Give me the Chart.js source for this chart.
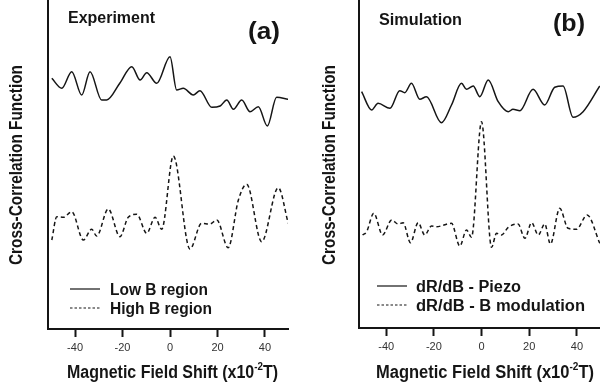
<!DOCTYPE html>
<html>
<head>
<meta charset="utf-8">
<script src="https://cdn.jsdelivr.net/npm/chart.js@4.4.1/dist/chart.umd.min.js"></script>
<style>
  body { margin: 0; background: #fff; }
  .panel { position: absolute; top: 0; width: 300px; height: 387px; }
</style>
</head>
<body>
<div class="panel" style="left:0"><canvas id="expChart" width="300" height="387"></canvas></div>
<div class="panel" style="left:300px"><canvas id="simChart" width="300" height="387"></canvas></div>
<script>
// Tick labels on the field-shift axis
const xTicks = [-40, -20, 0, 20, 40];

// (a) Experiment - low B region (solid)
const expLowX = [-49.8, -45.6, -41.4, -37.2, -33.7, -28.8, -26.7, -21.1, -16.1, -12.6, -9.8, -5.6, 0, 2.8, 5.6, 9.8, 12.6, 17.6, 21.1, 23.9, 26.7, 30.2, 33.7, 37.2, 41, 44.9, 49.8];
const expLowY = [250.7, 240.7, 257.3, 234, 257.3, 229, 229, 246, 262.3, 249, 256.3, 245.7, 272.3, 239, 240.7, 234, 238.3, 221.7, 223, 229, 219.7, 229, 217.3, 222.3, 203, 231.7, 229.7];

// (a) Experiment - high B region (dashed)
const expHighX = [-49.8, -47.7, -44.9, -41.4, -36.5, -33, -30.9, -26, -21.1, -17.6, -14, -9.8, -6.3, -3.5, 1.4, 8.4, 13.3, 16.8, 19.7, 24.5, 28.8, 32.3, 38.6, 45.6, 49.8];
const expHighY = [89, 112.3, 111.7, 117.3, 89, 99.7, 93, 120, 92.3, 111.7, 114.7, 95.7, 111.7, 99.7, 173, 80, 105.7, 105, 109, 81.3, 129, 144.7, 87.3, 141.3, 105.7];

// (b) Simulation - dR/dB piezo (solid)
const simPiezoX = [-50.3, -46.1, -43.4, -38.4, -34.3, -32.2, -29.4, -25.9, -23.1, -16.8, -12.6, -8.4, -6.3, -3.5, -0.7, 2.8, 7, 11.2, 13.2, 16.1, 21.6, 26.5, 30.7, 34.2, 38.4, 42.6, 49.6];
const simPiezoY = [236.3, 218, 224.7, 219.7, 237.3, 235.3, 244.7, 228.7, 231.3, 205.3, 223, 244.7, 238.7, 242, 231.3, 248, 226.3, 216.3, 218.7, 217.3, 238.7, 223, 240.7, 242, 210.7, 216.3, 242];

// (b) Simulation - dR/dB B modulation (dashed)
const simModX = [-49.9, -48.2, -45.2, -41.5, -37.7, -35, -32.9, -29.8, -26.6, -23.8, -21, -18.9, -12.6, -9.1, -6.3, -4.2, 0, 4.2, 6.3, 8.4, 11.2, 15.3, 18.2, 21, 23.8, 26.5, 28.9, 32.8, 36.3, 39.8, 44.3, 49.6];
const simModY = [93, 96.3, 114.7, 93, 108, 104, 105.3, 85.3, 105.3, 93, 102, 101.3, 104.7, 82, 98, 90.7, 206.3, 80.7, 94.7, 93, 100.7, 104, 89.7, 105.3, 93, 104, 84, 119.7, 99.7, 98.7, 113, 84.7];

const toPoints = (xs, ys) => xs.map((x, i) => ({ x, y: ys[i] }));

const INK = '#151515';
const BOLD = 'bold 18px "Liberation Sans", Arial, sans-serif';

// draw text squeezed/stretched horizontally to a given width
const fitText = (ctx, txt, x, y, font, width) => {
    ctx.save();
    ctx.font = font;
    const natural = ctx.measureText(txt).width;
    ctx.translate(x, y);
    ctx.scale(width / natural, 1);
    ctx.fillText(txt, 0, 0);
    ctx.restore();
};

// titles, panel tags and legend
const annotPlugin = {
    id: 'annot',
    afterDraw(chart, args, opts) {
        const ctx = chart.ctx;
        ctx.save();
        ctx.fillStyle = INK;
        ctx.textAlign = 'left';
        ctx.textBaseline = 'alphabetic';

        // y axis title (rotated)
        ctx.save();
        ctx.translate(opts.yTitleX, 165);
        ctx.rotate(-Math.PI / 2);
        fitText(ctx, 'Cross-Correlation Function', -100, 6, BOLD, 200);
        ctx.restore();

        // x axis title with superscript
        const main = 'Magnetic Field Shift (x10';
        const sup = '-2';
        const tail = 'T)';
        ctx.font = BOLD;
        const w1 = ctx.measureText(main).width;
        const w3 = ctx.measureText(tail).width;
        ctx.font = 'bold 11px "Liberation Sans", Arial, sans-serif';
        const w2 = ctx.measureText(sup).width;
        const sx = opts.xTitleW / (w1 + w2 + w3);
        ctx.save();
        ctx.translate(opts.xTitleLeft, 378);
        ctx.scale(sx, 1);
        ctx.font = BOLD;
        ctx.fillText(main, 0, 0);
        ctx.font = 'bold 11px "Liberation Sans", Arial, sans-serif';
        ctx.fillText(sup, w1, -8);
        ctx.font = BOLD;
        ctx.fillText(tail, w1 + w2, 0);
        ctx.restore();

        // panel name and tag
        fitText(ctx, opts.name, opts.nameX, opts.nameY, 'bold 16px "Liberation Sans", Arial, sans-serif', opts.nameW);
        fitText(ctx, opts.tag, opts.tagX, opts.tagY, 'bold 24px "Liberation Sans", Arial, sans-serif', opts.tagW);

        // legend
        const ds = chart.data.datasets;
        ds.forEach((d, i) => {
            const ly = opts.legendY[i];
            ctx.save();
            ctx.strokeStyle = INK;
            ctx.lineWidth = 1.2;
            ctx.setLineDash(i === 0 ? [] : [2.5, 2]);
            ctx.beginPath();
            ctx.moveTo(opts.legendX, ly);
            ctx.lineTo(opts.legendX + 30, ly);
            ctx.stroke();
            ctx.restore();
            fitText(ctx, d.label, opts.legendTextX, ly + 5.5, 'bold 16px "Liberation Sans", Arial, sans-serif', opts.legendW[i]);
        });
        ctx.restore();
    }
};

const makeChart = (id, solid, dashed, labels, axisW, axisY, padRight, annot) => {
    const ctx = document.getElementById(id).getContext('2d');
    return new Chart(ctx, {
        type: 'line',
        data: {
            datasets: [{
                label: labels[0],
                data: solid,
                borderColor: INK,
                borderWidth: 1.5,
                pointRadius: 0,
                cubicInterpolationMode: 'monotone',
                fill: false
            }, {
                label: labels[1],
                data: dashed,
                borderColor: INK,
                borderWidth: 1.5,
                borderDash: [4, 3],
                pointRadius: 0,
                cubicInterpolationMode: 'monotone',
                fill: false
            }]
        },
        options: {
            responsive: false,
            animation: false,
            events: [],
            layout: { padding: { left: 0, right: padRight, top: 0, bottom: 0 } },
            plugins: {
                legend: { display: false },
                tooltip: { enabled: false },
                annot: annot
            },
            scales: {
                x: {
                    type: 'linear',
                    min: -51.4,
                    max: 49.7,
                    afterFit: s => { s.height = 387 - axisY; },
                    afterBuildTicks: s => { s.ticks = xTicks.map(v => ({ value: v })); },
                    ticks: {
                        color: '#333',
                        font: { family: '"Liberation Sans", Arial, sans-serif', size: 11 },
                        padding: 4,
                        maxRotation: 0
                    },
                    grid: {
                        display: true,
                        drawOnChartArea: false,
                        drawTicks: true,
                        tickLength: 8,
                        tickWidth: 2,
                        tickColor: INK
                    },
                    border: { display: true, color: INK, width: 2 }
                },
                y: {
                    min: 0,
                    max: axisY,
                    afterFit: s => { s.width = axisW; },
                    ticks: { display: false },
                    grid: { display: false },
                    border: { display: true, color: INK, width: 2 }
                }
            }
        },
        plugins: [annotPlugin]
    });
};

makeChart('expChart',
    toPoints(expLowX, expLowY),
    toPoints(expHighX, expHighY),
    ['Low B region', 'High B region'],
    48, 329, 12,
    {
        yTitleX: 15.5, xTitleLeft: 67, xTitleW: 211,
        name: 'Experiment', nameX: 68, nameY: 23.3, nameW: 87,
        tag: '(a)', tagX: 248, tagY: 39, tagW: 32,
        legendX: 70, legendTextX: 110, legendY: [289, 308], legendW: [98, 102]
    });

makeChart('simChart',
    toPoints(simPiezoX, simPiezoY),
    toPoints(simModX, simModY),
    ['dR/dB - Piezo', 'dR/dB - B modulation'],
    59, 328, 0,
    {
        yTitleX: 29, xTitleLeft: 76, xTitleW: 218,
        name: 'Simulation', nameX: 79, nameY: 25, nameW: 83,
        tag: '(b)', tagX: 253, tagY: 31, tagW: 32,
        legendX: 77, legendTextX: 116, legendY: [286, 305], legendW: [105, 169]
    });
</script>
</body>
</html>
